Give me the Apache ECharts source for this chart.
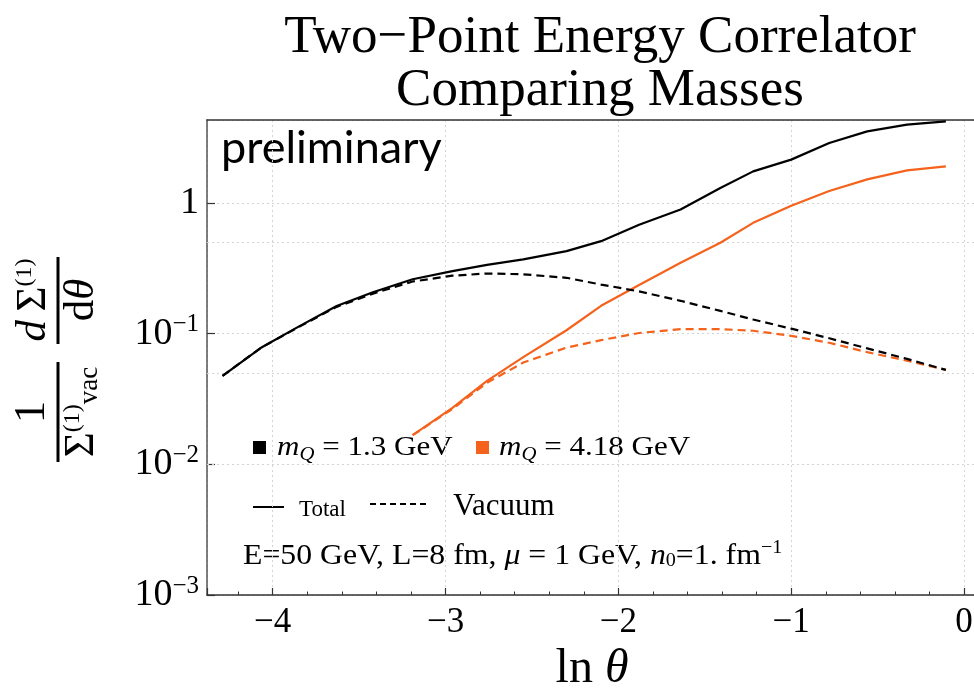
<!DOCTYPE html>
<html>
<head>
<meta charset="utf-8">
<script src="https://cdn.jsdelivr.net/npm/echarts@6/dist/echarts.min.js"></script>
<style>html,body{margin:0;padding:0;background:#fff;}#c{width:974px;height:695px;}</style>
</head>
<body>
<div id="c"></div>
<script>
// ---- data ----
var lnTheta = [-4.29, -4.07, -3.85, -3.63, -3.42, -3.19, -2.96, -2.76, -2.55, -2.30, -2.10, -1.88, -1.64, -1.41, -1.22, -1.00, -0.78, -0.56, -0.33, -0.105];
var totalLight = [0.0475, 0.0775, 0.113, 0.1625, 0.207, 0.26, 0.30, 0.335, 0.369, 0.427, 0.509, 0.68, 0.889, 1.30, 1.74, 2.14, 2.87, 3.52, 3.96, 4.2];
var vacuumLight = [0.0475, 0.0775, 0.112, 0.16, 0.202, 0.25, 0.277, 0.288, 0.284, 0.267, 0.237, 0.21, 0.178, 0.149, 0.128, 0.109, 0.092, 0.077, 0.064, 0.0527];
var lnThetaHeavy = [-3.19, -2.96, -2.76, -2.55, -2.30, -2.10, -1.88, -1.64, -1.41, -1.22, -1.00, -0.78, -0.56, -0.33, -0.105];
var totalHeavy = [0.0167, 0.027, 0.0435, 0.066, 0.106, 0.163, 0.235, 0.348, 0.495, 0.703, 0.95, 1.23, 1.51, 1.77, 1.90];
var vacuumHeavy = [0.0167, 0.0265, 0.042, 0.060, 0.078, 0.089, 0.101, 0.108, 0.108, 0.105, 0.096, 0.085, 0.072, 0.062, 0.0527];
var yExtraGrid = [0.5, 0.05, 0.005];
var massLabels = ['1.3', '4.18'];

var BLACK = '#000000', ORANGE = '#f5621c';
var SERIF = '"Liberation Serif", "Times New Roman", serif';

function pairs(xs, ys) { return xs.map(function (x, i) { return [x, ys[i]]; }); }
function minus(v) { return v < 0 ? '\u2212' + Math.abs(v) : String(v); }

var chart = echarts.init(document.getElementById('c'), null, { renderer: 'canvas' });

var XMIN = -4.38, XMAX = 0.075;

var option = {
  animation: false,
  backgroundColor: '#ffffff',
  grid: { left: 207, top: 120, right: -3, bottom: 100, containLabel: false, outerBoundsMode: 'none' },
  xAxis: [{
    type: 'value', min: XMIN, max: XMAX,
    axisLine: { show: true, onZero: false, lineStyle: { color: '#333', width: 1.5 } },
    axisTick: { show: true, inside: true, length: 7, lineStyle: { color: '#333', width: 1.2 } },
    minorTick: { show: true, splitNumber: 5, length: 3.5, lineStyle: { color: '#333', width: 1 } },
    splitLine: { show: true, lineStyle: { color: '#d4d4d4', type: [2, 3], width: 1 } },
    axisLabel: { show: true, showMinLabel: false, showMaxLabel: false, margin: 10, color: '#000', fontFamily: SERIF, fontSize: 35, formatter: function (v) { return minus(v); } },
    name: 'ln {i|\u03b8}', nameLocation: 'middle', nameGap: 50,
    nameTextStyle: { color: '#000', fontFamily: SERIF, fontSize: 48, verticalAlign: 'top',
      rich: { i: { fontFamily: SERIF, fontSize: 48, fontStyle: 'italic', color: '#000' } } }
  }, {
    type: 'value', min: XMIN, max: XMAX, position: 'top',
    axisLine: { show: true, onZero: false, lineStyle: { color: '#333', width: 1.5 } },
    axisTick: { show: false }, axisLabel: { show: false }, splitLine: { show: false }
  }],
  yAxis: [{
    type: 'log', logBase: 10, min: 0.001, max: 4.3,
    axisLine: { show: true, onZero: false, lineStyle: { color: '#555', width: 1.5 } },
    axisTick: { show: true, inside: true, length: 8, lineStyle: { color: '#333', width: 1.2 } },
    splitLine: { show: true, lineStyle: { color: '#d4d4d4', type: [2, 3], width: 1 } },
    axisLabel: {
      show: true, showMaxLabel: false, margin: 8, color: '#000', fontFamily: SERIF, fontSize: 38,
      formatter: function (v) {
        var e = Math.round(Math.log(v) / Math.LN10);
        if (e === 0) return '1';
        return '10{sup|' + minus(e) + '}';
      },
      rich: { sup: { fontFamily: SERIF, fontSize: 25, color: '#000', verticalAlign: 'top', padding: [0, 0, 18, 0] } }
    }
  }],
  series: [
    {
      name: 'total heavy', type: 'line', data: pairs(lnThetaHeavy, totalHeavy), showSymbol: false, symbol: 'none',
      lineStyle: { color: ORANGE, width: 2.2 }, z: 3
    },
    {
      name: 'vacuum heavy', type: 'line', data: pairs(lnThetaHeavy, vacuumHeavy), showSymbol: false, symbol: 'none',
      lineStyle: { color: ORANGE, width: 2.2, type: [8, 5] }, z: 3
    },
    {
      name: 'vacuum light', type: 'line', data: pairs(lnTheta, vacuumLight), showSymbol: false, symbol: 'none',
      lineStyle: { color: BLACK, width: 2.2, type: [8, 5] }, z: 4,
      markLine: {
        silent: true, symbol: 'none', label: { show: false },
        lineStyle: { color: '#d4d4d4', type: [2, 3], width: 1 },
        data: yExtraGrid.map(function (v) { return { yAxis: v }; }), z: 1
      }
    },
    {
      name: 'total light', type: 'line', data: pairs(lnTheta, totalLight), showSymbol: false, symbol: 'none',
      lineStyle: { color: BLACK, width: 2.2 }, z: 5
    }
  ],
  graphic: [
    // title
    { type: 'text', x: 600, y: 12, style: { text: 'Two\u2212Point Energy Correlator', align: 'center', verticalAlign: 'top', font: '53px ' + SERIF, fill: '#000' } },
    { type: 'text', x: 600, y: 65, style: { text: 'Comparing Masses', align: 'center', verticalAlign: 'top', font: '53px ' + SERIF, fill: '#000' } },
    // preliminary
    { type: 'text', x: 221, y: 126, style: { text: 'preliminary', font: '45px Lato, "Open Sans", sans-serif', fill: '#000' } },
    // legend row 1
    { type: 'rect', shape: { x: 253, y: 441, width: 13, height: 13 }, style: { fill: '#000' } },
    { type: 'text', x: 277, y: 448, scaleX: 1.15, style: { text: '{i|m}{s|Q} = ' + massLabels[0] + ' GeV', verticalAlign: 'middle', font: '27px ' + SERIF, fill: '#000',
      rich: { i: { fontStyle: 'italic', fontSize: 27, fontFamily: SERIF }, s: { fontStyle: 'italic', fontSize: 18, fontFamily: SERIF, padding: [14, 0, 0, 0] } } } },
    { type: 'rect', shape: { x: 476, y: 441, width: 13, height: 13 }, style: { fill: ORANGE } },
    { type: 'text', x: 499, y: 448, scaleX: 1.15, style: { text: '{i|m}{s|Q} = ' + massLabels[1] + ' GeV', verticalAlign: 'middle', font: '27px ' + SERIF, fill: '#000',
      rich: { i: { fontStyle: 'italic', fontSize: 27, fontFamily: SERIF }, s: { fontStyle: 'italic', fontSize: 18, fontFamily: SERIF, padding: [14, 0, 0, 0] } } } },
    // legend row 2
    { type: 'line', shape: { x1: 253, y1: 507, x2: 284, y2: 507 }, style: { stroke: '#000', lineWidth: 2 } },
    { type: 'text', x: 299, y: 521, style: { text: 'Total', verticalAlign: 'bottom', font: '23px ' + SERIF, fill: '#000' } },
    { type: 'line', shape: { x1: 370, y1: 504, x2: 430, y2: 504 }, style: { stroke: '#000', lineWidth: 2, lineDash: [6, 4] } },
    { type: 'text', x: 453, y: 522, style: { text: 'Vacuum', verticalAlign: 'bottom', font: '31px ' + SERIF, fill: '#000' } },
    // parameters
    { type: 'text', x: 243, y: 556, scaleX: 1.06, style: { text: 'E=50 GeV, L=8 fm, {i|\u03bc} = 1 GeV, {i|n}{s|0}=1. fm{p|\u22121}', verticalAlign: 'middle', font: '30px ' + SERIF, fill: '#000',
      rich: { i: { fontStyle: 'italic', fontSize: 30, fontFamily: SERIF }, s: { fontSize: 19, fontFamily: SERIF, padding: [11, 0, 0, 0] }, p: { fontSize: 19, fontFamily: SERIF, padding: [0, 0, 15, 0] } } } },
    // y axis label (rotated)
    {
      type: 'group', x: 58, y: 470, rotation: Math.PI / 2,
      children: [
        { type: 'line', shape: { x1: 8, y1: 0, x2: 108, y2: 0 }, style: { stroke: '#000', lineWidth: 3 } },
        { type: 'text', x: 58, y: -3, style: { text: '1', align: 'center', verticalAlign: 'bottom', font: '45px ' + SERIF, fill: '#000' } },
        { type: 'text', x: 58, y: 2, style: { text: '\u03a3{sup|(1)}{sub|vac}', align: 'center', verticalAlign: 'top', font: '43px ' + SERIF, fill: '#000',
          rich: { sup: { fontSize: 24, fontFamily: SERIF, padding: [0, 0, 18, 0] }, sub: { fontSize: 27, fontFamily: SERIF, padding: [16, 0, 0, 0] } } } },
        { type: 'line', shape: { x1: 126, y1: 0, x2: 213, y2: 0 }, style: { stroke: '#000', lineWidth: 3 } },
        { type: 'text', x: 170, y: -3, style: { text: '{i|d}\u202f\u03a3{sup|(1)}', align: 'center', verticalAlign: 'bottom', font: '43px ' + SERIF, fill: '#000',
          rich: { i: { fontStyle: 'italic', fontSize: 43, fontFamily: SERIF }, sup: { fontSize: 24, fontFamily: SERIF, padding: [0, 0, 18, 0] } } } },
        { type: 'text', x: 170, y: 2, style: { text: 'd{i|\u03b8}', align: 'center', verticalAlign: 'top', font: '43px ' + SERIF, fill: '#000',
          rich: { i: { fontStyle: 'italic', fontSize: 43, fontFamily: SERIF } } } }
      ]
    }
  ]
};
chart.setOption(option);
</script>
</body>
</html>
